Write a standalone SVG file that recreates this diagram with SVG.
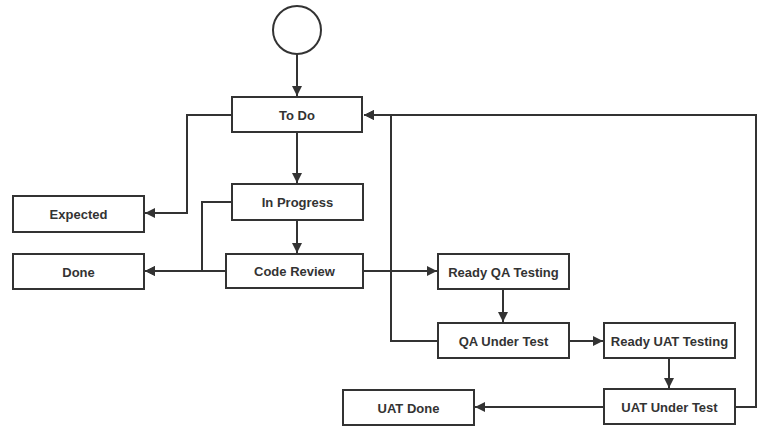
<svg xmlns="http://www.w3.org/2000/svg" width="757" height="428" viewBox="0 0 757 428">
<style>
.box{fill:#fff;stroke:#333;stroke-width:2}
.lbl{font-family:"Liberation Sans",Arial,sans-serif;font-size:13px;font-weight:bold;fill:#333;text-anchor:middle;dominant-baseline:central}
.c{fill:none;stroke:#333;stroke-width:2}
</style>
<defs>
<marker id="ah" viewBox="0 0 10 10" refX="10" refY="5" markerWidth="5" markerHeight="5" orient="auto" markerUnits="strokeWidth">
<path d="M0,0 L10,5 L0,10 Z" fill="#333"/>
</marker>
</defs>
<rect width="757" height="428" fill="#fff"/>
<g id="connectors">
<path class="c" d="M297,54 V96" marker-end="url(#ah)"/>
<path class="c" d="M297,133 V183" marker-end="url(#ah)"/>
<path class="c" d="M297,220 V253" marker-end="url(#ah)"/>
<path class="c" d="M232,115 H187 V213 H145" marker-end="url(#ah)"/>
<path class="c" d="M232,202 H202 V271 H145" marker-end="url(#ah)"/>
<path class="c" d="M226,271 H145" marker-end="url(#ah)"/>
<path class="c" d="M363,271 H437" marker-end="url(#ah)"/>
<path class="c" d="M503,289 V322" marker-end="url(#ah)"/>
<path class="c" d="M438,341 H391 V115 H364" marker-end="url(#ah)"/>
<path class="c" d="M569,341 H603" marker-end="url(#ah)"/>
<path class="c" d="M669,358 V388" marker-end="url(#ah)"/>
<path class="c" d="M735,407 H756 V115 H364" marker-end="url(#ah)"/>
<path class="c" d="M604,407 H475" marker-end="url(#ah)"/>
</g>
<g id="start"><circle cx="297" cy="30" r="24" class="box"/></g>
<g id="todo"><rect class="box" x="232" y="97" width="130" height="35"/><text class="lbl" x="297" y="115">To Do</text></g>
<g id="expected"><rect class="box" x="13" y="196" width="131" height="36"/><text class="lbl" x="78.5" y="214">Expected</text></g>
<g id="inprogress"><rect class="box" x="232" y="184" width="131" height="36"/><text class="lbl" x="297.5" y="202">In Progress</text></g>
<g id="done"><rect class="box" x="13" y="254" width="131" height="35"/><text class="lbl" x="78.5" y="272">Done</text></g>
<g id="codereview"><rect class="box" x="226" y="254" width="137" height="34"/><text class="lbl" x="294.5" y="271">Code Review</text></g>
<g id="readyqa"><rect class="box" x="438" y="254" width="131" height="35"/><text class="lbl" x="503.5" y="272">Ready QA Testing</text></g>
<g id="qaundertest"><rect class="box" x="438" y="323" width="131" height="35"/><text class="lbl" x="503.5" y="341">QA Under Test</text></g>
<g id="readyuat"><rect class="box" x="604" y="323" width="131" height="35"/><text class="lbl" x="669.5" y="341">Ready UAT Testing</text></g>
<g id="uatundertest"><rect class="box" x="604" y="389" width="131" height="35"/><text class="lbl" x="669.5" y="407">UAT Under Test</text></g>
<g id="uatdone"><rect class="box" x="343" y="390" width="131" height="35"/><text class="lbl" x="408.5" y="408">UAT Done</text></g>
</svg>
